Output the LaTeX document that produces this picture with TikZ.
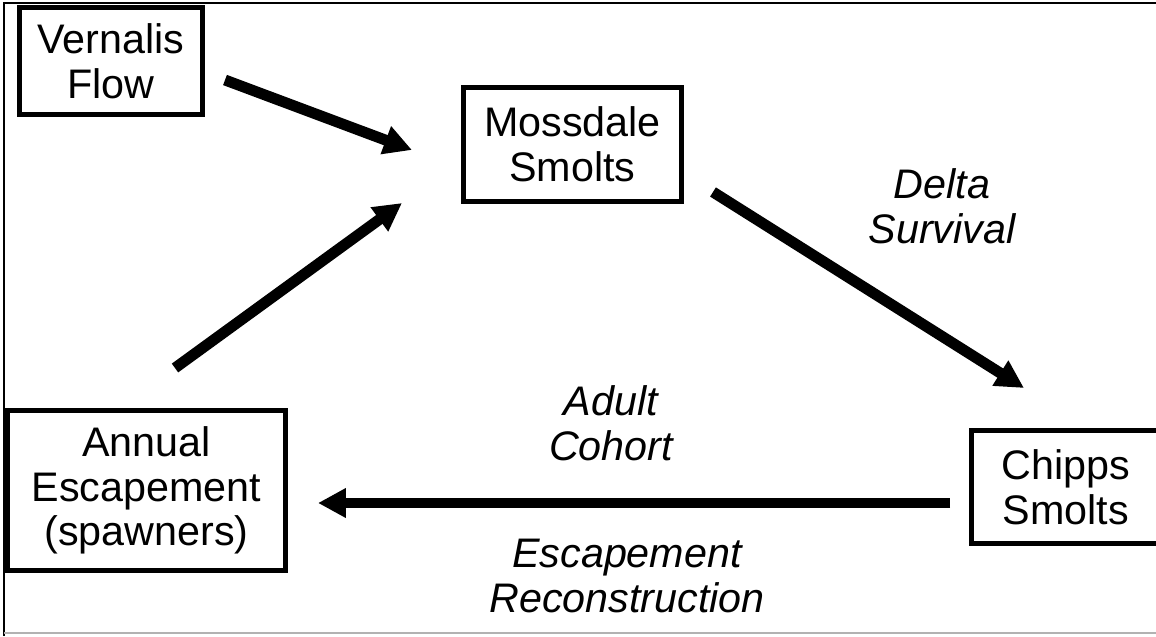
\documentclass[tikz,border=0pt]{standalone}
\usepackage{fontspec}
\setmainfont{Liberation Sans}
\usetikzlibrary{arrows.meta}

\begin{document}
\begin{tikzpicture}[x=0.02cm, y=-0.02cm,
        every node/.style={font=\fontsize{23.5}{25.5}\selectfont},
        box/.style={draw, line width=2.9pt, align=center, inner sep=0pt},
        flow/.style={line width=6.2pt, -{Triangle[length=0.56cm, width=0.56cm]}},
        lbl/.style={align=center, font=\fontsize{23.5}{25.5}\selectfont\itshape}]
        \useasboundingbox (0,0) rectangle (1156,636);
        % frame
        \draw[line width=1.2pt] (4,636) -- (4,3) -- (1160,3);
        \draw[line width=1pt, black!30] (4,633) -- (1160,633);
        % boxes
        \node[box, minimum width=3.66cm, minimum height=2.14cm] (vern) at (111,61)    {Vernalis\\Flow};
        \node[box, minimum width=4.36cm, minimum height=2.28cm] (moss) at (572.5,144.5) {Mossdale\\Smolts};
        \node[box, minimum width=3.78cm, minimum height=2.26cm] (chip) at (1066,487) {Chipps\\Smolts};
        \node[box, minimum width=5.56cm, minimum height=3.20cm] (esc)  at (146.5,490.5) {Annual\\Escapement\\(spawners)};
        % arrow ends
        \coordinate (v0) at (225,80);
        \coordinate (v1) at (412,150);
        \coordinate (a0) at (175,368);
        \coordinate (a1) at (402,203);
        \coordinate (d0) at (713,192);
        \coordinate (d1) at (1024,388);
        \coordinate (c0) at (950,503);
        \coordinate (c1) at (318,503);
        \draw[flow] (v0) -- (v1);
        \draw[flow] (a0) -- (a1);
        \draw[flow] (d0) -- (d1);
        \draw[flow] (c0) -- (c1);
        % labels
        \node[lbl] (surv)  at (942,206)   {Delta\\Survival};
        \node[lbl] (coh)   at (611,423)   {Adult\\Cohort};
        \node[lbl] (recon) at (627,576)   {Escapement\\Reconstruction};
\end{tikzpicture}
\end{document}
